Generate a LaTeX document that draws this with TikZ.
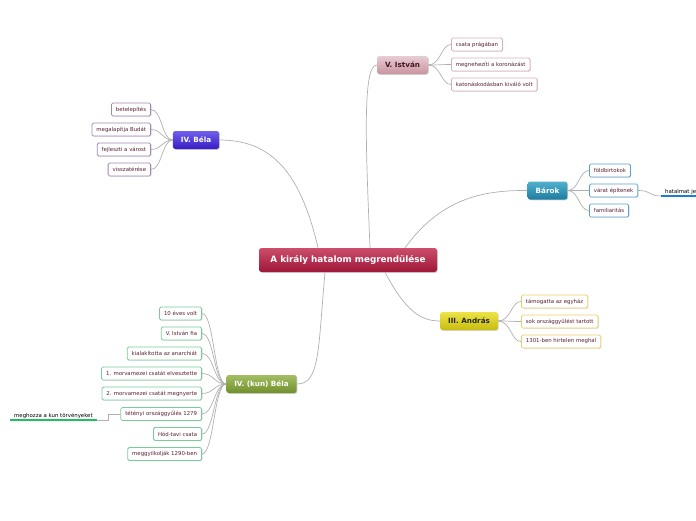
\documentclass[tikz,border=0pt]{standalone}
\usepackage{fontspec}
\setmainfont{DejaVu Sans}
\usepackage{tikz}
\usetikzlibrary{shadows,positioning,calc}

\definecolor{linegray}{RGB}{176,176,176}
\definecolor{subtext}{RGB}{90,32,48}
\definecolor{rootTop}{RGB}{204,78,106}
\definecolor{rootBot}{RGB}{158,22,56}
\definecolor{istvanTop}{RGB}{232,204,212}
\definecolor{istvanBot}{RGB}{200,148,160}
\definecolor{istvanText}{RGB}{70,20,35}
\definecolor{istvanLine}{RGB}{216,176,187}
\definecolor{belaTop}{RGB}{112,96,236}
\definecolor{belaBot}{RGB}{56,28,196}
\definecolor{belaLine}{RGB}{160,136,178}
\definecolor{barokTop}{RGB}{82,176,206}
\definecolor{barokBot}{RGB}{28,124,160}
\definecolor{barokLine}{RGB}{90,162,210}
\definecolor{barokUnder}{RGB}{26,128,200}
\definecolor{andrasTop}{RGB}{236,228,70}
\definecolor{andrasBot}{RGB}{200,188,16}
\definecolor{andrasText}{RGB}{40,40,30}
\definecolor{andrasLine}{RGB}{240,204,100}
\definecolor{kunTop}{RGB}{164,190,100}
\definecolor{kunBot}{RGB}{112,144,44}
\definecolor{kunLine}{RGB}{120,204,152}
\definecolor{kunUnder}{RGB}{32,192,96}

\begin{document}
\begin{tikzpicture}[x=1pt,y=-1pt,
  topic/.style={rounded corners=2.5pt,minimum height=18pt,inner xsep=8pt,inner ysep=0pt,
    font=\fontsize{7.2}{8}\selectfont\bfseries,drop shadow={shadow xshift=0.8pt,shadow yshift=-0.8pt,opacity=0.35}},
  sub/.style={draw=#1,fill=white,line width=0.8pt,rounded corners=1.5pt,minimum height=13pt,
    inner xsep=4.5pt,inner ysep=0pt,text=subtext,font=\fontsize{5.4}{6}\selectfont,
    drop shadow={shadow xshift=0.7pt,shadow yshift=-0.7pt,opacity=0.3}},
  link/.style={draw=linegray,line width=0.7pt},
]
  \useasboundingbox (0,0) rectangle (696,520);

  % central topic
  \node[topic,minimum width=178pt,minimum height=24pt,text=white,font=\fontsize{8.8}{9}\selectfont\bfseries,
    top color=rootTop,bottom color=rootBot] (root) at (348,260) {A király hatalom megrendülése};

  % main topics
  \node[topic,text=istvanText,top color=istvanTop,bottom color=istvanBot] (istvan) at (402.5,65) {V. István};
  \node[topic,text=white,top color=belaTop,bottom color=belaBot] (bela) at (196,140) {IV. Béla};
  \node[topic,text=white,top color=barokTop,bottom color=barokBot] (barok) at (547.5,190.5) {Bárok};
  \node[topic,text=andrasText,top color=andrasTop,bottom color=andrasBot] (andras) at (469,321) {III. András};
  \node[topic,text=white,top color=kunTop,bottom color=kunBot] (kunbela) at (261.5,384) {IV. (kun) Béla};

  % links from the central topic
  \draw[link] ($(root.north)+(22,0)$) .. controls (366,150) and (362,65) .. (istvan.west);
  \draw[link] ($(root.north)+(-30,0)$) .. controls (300,170) and (270,140) .. (bela.east);
  \draw[link] ($(root.north)+(57,0)$) .. controls (440,200) and (480,190) .. (barok.west);
  \draw[link] ($(root.south)+(37,0)$) .. controls (405,310) and (420,321) .. (andras.west);
  \draw[link] ($(root.south)+(-23,0)$) .. controls (318,350) and (320,384) .. (kunbela.east);

  % V. Istvan
  \foreach \i/\txt/\y in {1/csata prágában/44.5,2/megnehezíti a koronázást/64.5,3/katonáskodásban kiváló volt/84.5} {
    \node[sub=istvanLine,anchor=west] (istvan\i) at (451,\y) {\txt};
    \draw[link] (istvan.east) .. controls (441,65) and (441,\y) .. (istvan\i.west);
  }

  % IV. Bela
  \foreach \i/\txt/\y in {1/betelepítés/109.5,2/megalapítja Budát/129.5,3/fejleszti a várost/149.5,4/visszatérése/169.5} {
    \node[sub=belaLine,anchor=east] (bela\i) at (151,\y) {\txt};
    \draw[link] (bela.west) .. controls (162,140) and (162,\y) .. (bela\i.east);
  }

  % Barok
  \foreach \i/\txt/\y in {1/földbirtokok/170.5,2/várat építenek/190.5,3/familiaritás/210.5} {
    \node[sub=barokLine,anchor=west] (barok\i) at (589,\y) {\txt};
    \draw[link] (barok.east) .. controls (579,190.5) and (579,\y) .. (barok\i.west);
  }
  \node[anchor=south west,inner xsep=4pt,inner ysep=1.5pt,font=\fontsize{5.4}{6}\selectfont] (hatalom) at (661,196) {hatalmat je};
  \draw[draw=barokUnder,line width=2pt] (hatalom.south west) -- (700,196);
  \draw[link] (barok2.east) .. controls (652,190.5) and (648,196) .. (hatalom.south west);

  % III. Andras
  \foreach \i/\txt/\y in {1/támogatta az egyház/301.5,2/sok országgyűlést tartott/321.5,3/1301-ben hirtelen meghal/341.5} {
    \node[sub=andrasLine,anchor=west] (andras\i) at (521,\y) {\txt};
    \draw[link] (andras.east) .. controls (511,321) and (511,\y) .. (andras\i.west);
  }

  % IV. (kun) Bela
  \foreach \i/\txt/\y in {1/10 éves volt/313.5,2/V. István fia/333.5,3/kialakította az anarchiát/353.5,
      4/1. morvamezei csatát elvesztette/373.5,5/2. morvamezei csatát megnyerte/393.5,
      6/tétényi országgyűlés 1279/414,7/Hód-tavi csata/434,8/meggyilkolják 1290-ben/454} {
    \node[sub=kunLine,anchor=east] (kun\i) at (202,\y) {\txt};
    \draw[link] (kunbela.west) .. controls (214,384) and (214,\y) .. (kun\i.east);
  }
  \node[anchor=south west,inner xsep=4pt,inner ysep=1.5pt,font=\fontsize{5.4}{6}\selectfont] (torveny) at (10,420) {meghozza a kun törvényeket};
  \draw[draw=kunUnder,line width=2pt] (torveny.south west) -- (torveny.south east);
  \draw[link] (kun6.west) -- (108,414) -- (108,420) -- (torveny.south east);
\end{tikzpicture}
\end{document}
